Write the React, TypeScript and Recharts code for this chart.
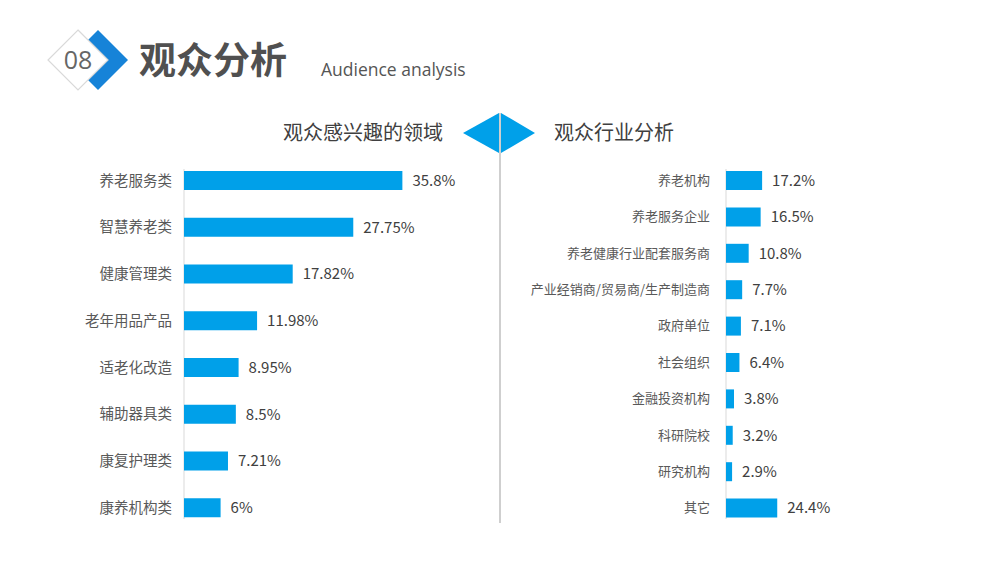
import React from 'react'
import { BarChart, Bar, XAxis, YAxis, LabelList } from 'recharts'

const interestNames = ['养老服务类', '智慧养老类', '健康管理类', '老年用品产品', '适老化改造', '辅助器具类', '康复护理类', '康养机构类']
const interestValues = [35.8, 27.75, 17.82, 11.98, 8.95, 8.5, 7.21, 6]

const industryNames = [
  '养老机构',
  '养老服务企业',
  '养老健康行业配套服务商',
  '产业经销商/贸易商/生产制造商',
  '政府单位',
  '社会组织',
  '金融投资机构',
  '科研院校',
  '研究机构',
  '其它',
]
const industryValues = [17.2, 16.5, 10.8, 7.7, 7.1, 6.4, 3.8, 3.2, 2.9, 24.4]

const interestData = interestNames.map((name, i) => ({ name, value: interestValues[i] }))
const industryData = industryNames.map((name, i) => ({ name, value: industryValues[i] }))

const BLUE = '#00A0E9'
const CJK = '"Noto Sans CJK SC", "Noto Sans", sans-serif'

const fmt = (v: any) => `${v}%`

export default function App() {
  return (
    <div style={{ position: 'absolute', left: 0, top: 0, width: 1000, height: 562, background: '#fff', fontFamily: CJK, overflow: 'hidden' }}>
      {/* header, titles, divider, axis lines */}
      <svg width={1000} height={562} style={{ position: 'absolute', left: 0, top: 0 }}>
        <polygon points="98,30 128,60 98,90 68,60" fill="#1683D8" />
        <polygon points="78,30 108,60 78,90 48,60" fill="#fff" stroke="#d9d9d9" strokeWidth={1.2} />
        <text x={78} y={69} textAnchor="middle" fontSize={25} fill="#666" fontFamily='"Open Sans", sans-serif'>08</text>
        <text x={139} y={74} fontSize={37} fontWeight={700} fill="#505050" fontFamily={CJK}>观众分析</text>
        <text x={321} y={76} fontSize={17.5} fill="#555" fontFamily='"Open Sans", sans-serif'>Audience analysis</text>

        <text x={363} y={140} textAnchor="middle" fontSize={20} fill="#404040" fontFamily={CJK}>观众感兴趣的领域</text>
        <text x={614} y={140} textAnchor="middle" fontSize={20} fill="#404040" fontFamily={CJK}>观众行业分析</text>

        <polygon points="463,133 499,113 499,153" fill={BLUE} />
        <polygon points="501,113 535,133 501,153" fill={BLUE} />
        <line x1={500} y1={113} x2={500} y2={523} stroke="#bfbfbf" strokeWidth={1.5} />

        <line x1={184} y1={169} x2={184} y2={519} stroke="#d9d9d9" strokeWidth={1} />
        <line x1={726} y1={169} x2={726} y2={519} stroke="#d9d9d9" strokeWidth={1} />
      </svg>

      <div style={{ position: 'absolute', left: 0, top: 0 }}>
        <BarChart
          width={500}
          height={562}
          data={interestData}
          layout="vertical"
          margin={{ top: 157, right: 72, bottom: 31, left: 0 }}
        >
          <XAxis type="number" domain={[0, 40]} hide />
          <YAxis
            type="category"
            dataKey="name"
            width={184}
            axisLine={false}
            tickLine={false}
            tickSize={0}
            tickMargin={12}
            tick={{ fill: '#595959', fontSize: 14.5, fontFamily: CJK }}
          />
          <Bar dataKey="value" fill={BLUE} barSize={19} isAnimationActive={false}>
            <LabelList dataKey="value" position="right" offset={10} formatter={fmt} fill="#404040" fontSize={15} fontFamily={CJK} />
          </Bar>
        </BarChart>
      </div>

      <div style={{ position: 'absolute', left: 500, top: 0 }}>
        <BarChart
          width={500}
          height={562}
          data={industryData}
          layout="vertical"
          margin={{ top: 162, right: 211, bottom: 36, left: 0 }}
        >
          <XAxis type="number" domain={[0, 30]} hide />
          <YAxis
            type="category"
            dataKey="name"
            width={226}
            axisLine={false}
            tickLine={false}
            tickSize={0}
            tickMargin={16}
            tick={{ fill: '#595959', fontSize: 13, fontFamily: CJK }}
          />
          <Bar dataKey="value" fill={BLUE} barSize={19} isAnimationActive={false}>
            <LabelList dataKey="value" position="right" offset={10} formatter={fmt} fill="#404040" fontSize={15} fontFamily={CJK} />
          </Bar>
        </BarChart>
      </div>
    </div>
  )
}
